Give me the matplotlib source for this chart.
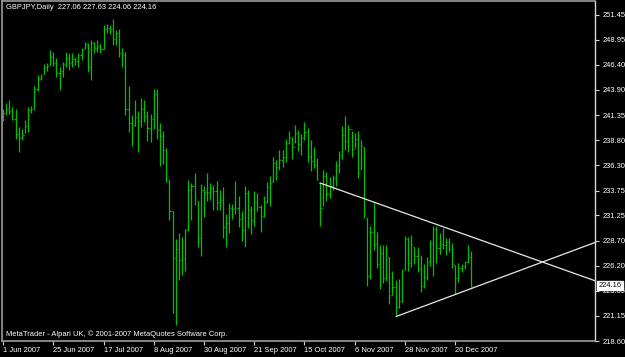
import matplotlib
matplotlib.use("Agg")
import matplotlib.pyplot as plt

plt.rcParams["font.family"] = ["Liberation Sans", "DejaVu Sans"]

symbol_title = "GBPJPY,Daily  227.06 227.63 224.06 224.16"
footer = "MetaTrader - Alpari UK, \u00a9 2001-2007 MetaQuotes Software Corp."

highs = [242.0, 242.6, 242.9, 242.2, 242.0, 240.1, 239.9, 240.8, 242.2, 242.3,
         244.3, 245.4, 245.5, 246.5, 246.6, 247.9, 247.7, 247.1, 246.2, 246.7,
         247.7, 247.6, 247.6, 247.2, 247.6, 248.1, 248.7, 248.6, 248.9, 248.7,
         248.9, 248.5, 250.4, 250.5, 250.4, 251.0, 249.9, 250.0, 248.1, 247.7,
         244.3, 241.4, 242.9, 241.8, 243.1, 242.9, 241.8, 241.5, 244.0, 244.0,
         240.5, 239.7, 238.0, 234.8, 231.7, 228.9, 229.5, 229.1, 229.9, 234.8,
         234.5, 235.5, 232.7, 234.4, 234.2, 235.5, 234.5, 234.3, 234.7, 233.8,
         234.1, 231.4, 232.5, 232.4, 234.7, 233.2, 231.7, 234.2, 233.8, 232.2,
         233.7, 233.5, 232.3, 233.2, 234.6, 235.2, 237.1, 236.8, 237.8, 237.8,
         238.9, 239.7, 239.1, 240.3, 239.8, 239.4, 240.6, 240.0, 238.8, 238.1,
         237.0, 234.5, 235.8, 235.6, 235.1, 235.3, 236.7, 237.7, 240.2, 241.3,
         240.3, 239.7, 239.5, 239.7, 238.8, 238.1, 231.0, 230.2, 232.5, 229.6,
         228.3, 228.3, 228.3, 227.1, 225.6, 224.7, 224.8, 225.8, 229.2, 229.1,
         229.3, 228.1, 228.1, 227.3, 226.4, 227.1, 228.8, 230.2, 230.2, 229.5,
         230.0, 229.0, 229.0, 228.5, 226.3, 226.5, 226.4, 226.7, 228.3, 227.63]

lows = [240.7, 241.4, 241.5, 240.8, 238.9, 237.6, 238.8, 239.5, 239.6, 241.6,
        242.0, 243.8, 244.9, 245.5, 245.8, 246.4, 246.3, 245.2, 243.9, 245.2,
        246.2, 245.9, 246.2, 246.4, 246.2, 246.9, 248.0, 245.7, 244.9, 247.6,
        247.7, 247.6, 248.0, 249.6, 249.5, 248.4, 248.4, 247.2, 246.2, 241.4,
        239.6, 238.2, 240.2, 237.6, 240.1, 240.6, 238.7, 238.6, 239.9, 238.9,
        236.2, 236.4, 234.6, 230.8, 221.4, 220.2, 224.7, 225.2, 225.6, 229.7,
        230.8, 232.3, 228.1, 227.2, 231.1, 232.7, 232.8, 231.8, 231.8, 231.8,
        229.0, 228.1, 229.5, 230.9, 231.4, 230.1, 228.7, 228.1, 230.0, 229.4,
        230.2, 231.7, 229.6, 231.1, 232.5, 232.2, 234.6, 234.8, 235.8, 236.1,
        236.6, 238.4, 236.9, 238.5, 237.7, 237.3, 238.8, 236.6, 235.7, 236.0,
        234.8, 230.2, 232.2, 232.7, 233.0, 233.8, 234.2, 235.5, 236.9, 237.8,
        237.6, 237.1, 238.0, 235.0, 235.9, 231.0, 224.1, 224.8, 227.8, 225.9,
        223.8, 224.4, 224.6, 222.3, 223.2, 221.2, 221.9, 222.5, 225.7, 225.6,
        226.0, 226.4, 225.5, 223.5, 223.9, 224.7, 226.2, 225.1, 226.5, 227.4,
        227.9, 227.3, 227.6, 225.9, 223.3, 224.5, 225.5, 225.8, 226.5, 224.06]

opens = [241.2, 241.6, 242.0, 241.8, 241.0, 239.4, 239.0, 239.3, 240.2, 241.9,
         242.0, 244.0, 245.0, 245.5, 246.2, 246.4, 247.2, 246.6, 245.6, 245.8,
         246.5, 247.1, 246.6, 247.0, 246.8, 247.4, 248.0, 248.5, 246.2, 248.6,
         248.1, 248.3, 248.0, 250.0, 250.1, 250.0, 249.0, 249.6, 247.6, 247.4,
         242.0, 240.5, 240.3, 241.2, 240.7, 242.0, 241.3, 240.0, 240.9, 243.5,
         239.8, 239.2, 237.8, 234.8, 231.7, 227.0, 227.9, 226.8, 226.9, 229.8,
         233.8, 234.2, 232.7, 229.0, 233.8, 233.6, 233.6, 234.0, 233.7, 232.6,
         232.8, 230.1, 230.5, 232.0, 231.9, 232.0, 230.9, 229.8, 233.5, 231.8,
         230.8, 232.6, 232.1, 231.2, 232.6, 234.1, 234.6, 236.5, 236.1, 236.8,
         237.1, 238.5, 239.0, 238.1, 239.5, 238.4, 239.0, 239.6, 237.2, 236.7,
         236.3, 234.5, 232.0, 235.2, 233.4, 234.2, 235.0, 236.3, 237.3, 239.3,
         238.7, 239.9, 237.9, 238.9, 235.9, 238.1, 231.0, 225.1, 229.6, 228.4,
         226.4, 227.5, 224.9, 227.1, 223.2, 224.0, 222.0, 222.6, 225.7, 228.9,
         226.5, 228.1, 227.2, 225.9, 224.1, 225.0, 226.6, 228.5, 229.9, 228.0,
         228.4, 228.3, 228.6, 227.9, 226.3, 224.9, 225.9, 226.2, 226.6, 227.06]

closes = [241.6, 242.0, 241.8, 241.0, 239.4, 239.0, 239.3, 240.2, 241.9, 242.0,
          244.0, 245.0, 245.2, 246.2, 246.3, 247.2, 246.6, 245.6, 245.8, 246.5,
          247.1, 246.6, 247.0, 246.8, 247.4, 247.9, 248.5, 246.2, 248.6, 248.1,
          248.3, 248.0, 250.0, 250.1, 250.0, 249.0, 249.6, 247.6, 247.4, 242.0,
          240.5, 240.3, 241.2, 240.7, 242.0, 241.3, 240.0, 240.9, 243.5, 239.8,
          239.2, 237.8, 235.0, 231.7, 227.0, 227.9, 226.8, 226.9, 229.8, 233.8,
          234.2, 233.0, 229.0, 233.8, 233.6, 233.6, 234.0, 233.7, 232.6, 232.8,
          230.1, 230.5, 232.0, 231.9, 232.0, 230.9, 229.8, 233.5, 231.8, 230.8,
          232.6, 232.1, 231.2, 232.6, 234.1, 234.5, 236.5, 236.1, 236.8, 237.1,
          238.5, 239.0, 238.1, 239.5, 238.4, 239.0, 239.6, 237.2, 236.7, 236.3,
          234.9, 232.0, 235.2, 233.4, 234.2, 235.0, 236.3, 237.3, 239.3, 238.7,
          239.9, 237.9, 238.9, 235.5, 238.3, 231.4, 225.1, 229.6, 228.4, 226.4,
          227.5, 224.9, 227.9, 223.0, 224.0, 222.0, 222.6, 225.6, 228.9, 226.5,
          228.4, 227.2, 225.9, 224.1, 225.0, 226.6, 228.5, 229.9, 228.0, 228.4,
          228.3, 228.6, 227.9, 226.4, 224.9, 225.9, 226.2, 226.6, 227.1, 224.16]

date_labels = ["1 Jun 2007", "25 Jun 2007", "17 Jul 2007", "8 Aug 2007", "30 Aug 2007",
               "21 Sep 2007", "15 Oct 2007", "6 Nov 2007", "28 Nov 2007", "20 Dec 2007"]
date_bar_index = [0, 16, 32, 48, 64, 80, 96, 112, 128, 144]

price_ticks = [251.45, 248.95, 246.40, 243.90, 241.35, 238.80, 236.30, 233.75,
               231.25, 228.70, 226.20, 223.65, 221.15, 218.60]
last_price = 224.16

# trendlines: (bar index, price) anchor points
trend_down = [(101.0, 234.5), (153.5, 228.6)]
trend_up = [(125.2, 221.07), (153.5, 224.4)]

W, H = 625, 357
fig = plt.figure(figsize=(W / 100, H / 100), dpi=100, facecolor="black")
left, right, top, bottom = 2, 595, 1, 341
ax = fig.add_axes([left / W, 1 - bottom / H, (right - left) / W, (bottom - top) / H])
ax.set_facecolor("black")

xmin, xmax = -0.32, 188.5
ymin, ymax = 218.60, 252.83
ax.set_xlim(xmin, xmax)
ax.set_ylim(ymin, ymax)

green = "#00c000"
idx = list(range(len(highs)))
ax.vlines(idx, lows, highs, color=green, linewidth=0.9)
ax.hlines(opens, [i - 0.34 for i in idx], idx, color=green, linewidth=0.9)
ax.hlines(closes, idx, [i + 0.34 for i in idx], color=green, linewidth=0.9)

for (x0, y0), (x1, y1) in (trend_down, trend_up):
    slope = (y1 - y0) / (x1 - x0)
    ax.plot([x0, xmax], [y0, y0 + slope * (xmax - x0)], color="#e8e8e8", linewidth=0.9)

for s in ("left", "top", "bottom"):
    ax.spines[s].set_color("#9a9a9a")
    ax.spines[s].set_linewidth(1.2)
ax.spines["right"].set_color("#d8d8d8")
ax.spines["right"].set_linewidth(1.0)

fs = 5.4
ax.yaxis.tick_right()
ax.set_yticks(price_ticks)
ax.set_yticklabels([f"{v:.2f}" for v in price_ticks])
ax.tick_params(axis="y", colors="#d0d0d0", labelcolor="white", labelsize=fs,
               length=3, width=0.8, pad=2.5, direction="out")

ax.set_xticks(date_bar_index)
ax.set_xticklabels(date_labels)
ax.tick_params(axis="x", colors="#d0d0d0", labelcolor="white", labelsize=fs,
               length=3, width=0.8, pad=1.5, direction="out")
for lbl in ax.get_xticklabels():
    lbl.set_horizontalalignment("left")

ax.text(0.006, 0.99, symbol_title, transform=ax.transAxes, color="white",
        fontsize=fs, va="top", ha="left")
ax.text(0.006, 0.01, footer, transform=ax.transAxes, color="white",
        fontsize=fs, va="bottom", ha="left")

ax.annotate(f"{last_price:.2f}", xy=(1.0, last_price), xycoords=("axes fraction", "data"),
            xytext=(2.5, 0), textcoords="offset points", ha="left", va="center",
            fontsize=fs, color="black",
            bbox=dict(boxstyle="square,pad=0.15", facecolor="white", edgecolor="white"))

fig.savefig("out.png", dpi=100, facecolor="black")
